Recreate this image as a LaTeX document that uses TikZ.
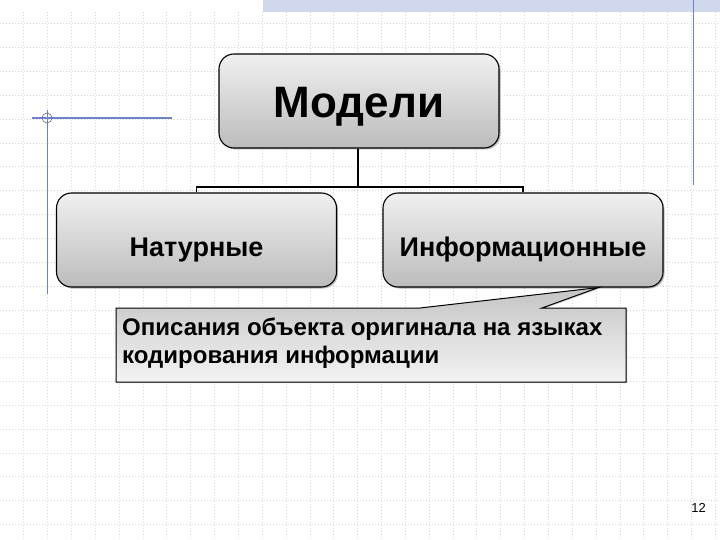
\documentclass[tikz,border=0pt]{standalone}
\usepackage{fontspec}
\setmainfont{Liberation Sans}
\usetikzlibrary{shadows}
\definecolor{gridc}{RGB}{212,214,220}
\definecolor{bluel}{RGB}{110,130,200}
\definecolor{bandc}{RGB}{208,216,238}
\definecolor{boxtop}{RGB}{240,240,240}
\definecolor{boxbot}{RGB}{188,188,188}
\definecolor{caltop}{RGB}{196,196,196}
\definecolor{calbot}{RGB}{244,244,244}
\tikzset{
  box/.style={draw=black, line width=1.1pt, rounded corners=15pt, top color=boxtop, bottom color=boxbot,
    minimum width=280pt, minimum height=94pt, inner sep=0pt,
    drop shadow={shadow xshift=1.5pt, shadow yshift=-1.5pt, fill=black!55}},
  lbl/.style={font=\bfseries, inner sep=0pt},
  conn/.style={draw=black, line width=1.1pt},
  gridline/.style={draw=gridc, line width=0.8pt, dash pattern=on 1.2pt off 1.8pt}
}
\begin{document}
\begin{tikzpicture}[x=1pt, y=-1pt]
\useasboundingbox (0,0) rectangle (720,540);
\fill[white] (0,0) rectangle (720,540);
% grid
\foreach \i in {0,...,29} {
  \draw[gridline] ({23.7+23.85*\i},12) -- ({23.7+23.85*\i},540);
}
\foreach \j in {0,...,21} {
  \draw[gridline] (0,{23.7+23.85*\j}) -- (720,{23.7+23.85*\j});
}
% top band
\fill[bandc] (263,0) rectangle (720,12);
% blue decorations
\draw[bluel, line width=1pt] (693,0) -- (693,185);
\draw[bluel, line width=1.8pt] (32,118) -- (172,118);
\draw[bluel, line width=1pt] (47,110) -- (47,294);
\draw[gray!80!blue, line width=0.6pt] (47,118) circle (5);
% boxes
\node[box] (top) at (359,101) {};
\node[box] (nat) at (196.5,240) {};
\node[box] (inf) at (523,240) {};
% connectors
\coordinate (j) at (358,187);
\draw[conn] (top.south -| j) -- (j);
\draw[conn] (nat.north) |- (j) -| (inf.north);
% labels
\node[lbl, anchor=base, font=\bfseries\fontsize{44}{50}\selectfont] (tl) at ([yshift=-17pt]top.center) {Модели};
\node[lbl, anchor=base, font=\bfseries\fontsize{27}{32}\selectfont] (nl) at ([yshift=-16pt]nat.center) {Натурные};
\node[lbl, anchor=base, font=\bfseries\fontsize{27}{32}\selectfont] (il) at ([yshift=-16pt]inf.center) {Информационные};
% callout
\coordinate (tip) at ([xshift=-65pt]inf.south east);
\draw[line width=1pt, top color=caltop, bottom color=calbot,
  drop shadow={shadow xshift=1pt, shadow yshift=-1pt, fill=black!40}]
  (116,308) -- (420,308) -- (tip) -- (542,308) -- (626,308) -- (626,382) -- (116,382) -- cycle;
\node[lbl, anchor=base west, align=left, font=\bfseries\fontsize{24}{28}\selectfont] (cl) at (122,363)
  {Описания объекта оригинала на языках\\кодирования информации};
% page number
\node[inner sep=0pt, anchor=base east, font=\fontsize{13}{15}\selectfont] (pg) at (706,512) {12};
\end{tikzpicture}
\end{document}
